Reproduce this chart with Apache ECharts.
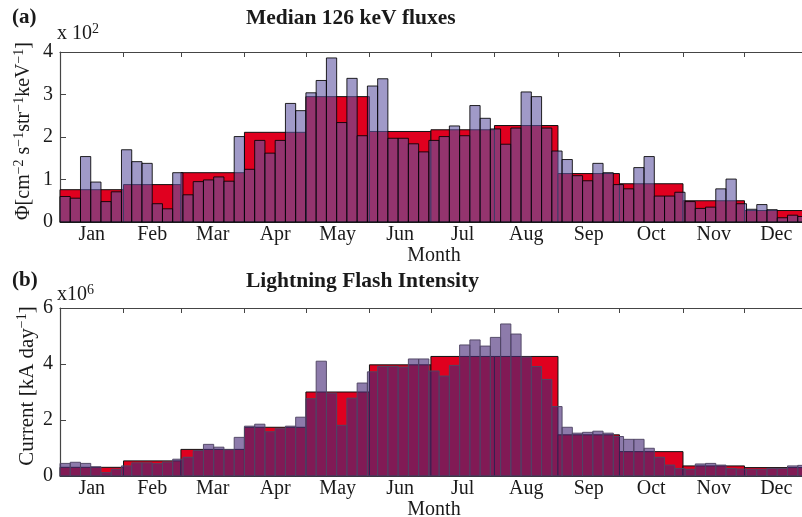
<!DOCTYPE html>
<html><head><meta charset="utf-8">
<script src="https://cdn.jsdelivr.net/npm/echarts@6/dist/echarts.min.js"></script>
<style>html,body{margin:0;padding:0;background:#fff}#c{width:802px;height:517px}</style>
</head><body><div id="c"></div>
<script>
// ---- data ----
const months = ['Jan','Feb','Mar','Apr','May','Jun','Jul','Aug','Sep','Oct','Nov','Dec'];
const monthDays = [31,28,31,30,31,30,31,31,30,31,30,31];
const pentadDays = 5;
// Median 126 keV fluxes (x 10^2)
const fluxMonthly = [0.76,0.88,1.16,2.11,2.95,2.13,2.17,2.27,1.14,0.90,0.50,0.27];
const fluxPentad = [0.60,0.56,1.54,0.94,0.48,0.71,1.70,1.42,1.38,0.43,0.31,1.16,0.64,0.95,0.99,1.06,0.96,2.01,1.24,1.92,1.62,1.92,2.79,2.62,3.04,
  3.33,3.86,2.34,3.38,2.03,3.20,3.37,1.97,1.97,1.84,1.65,1.92,2.01,2.26,2.03,2.74,2.44,2.19,1.83,2.21,3.06,2.95,2.21,
  1.67,1.47,1.09,0.97,1.38,1.16,0.88,0.78,1.28,1.54,0.61,0.61,0.70,0.48,0.32,0.35,0.78,1.01,0.43,0.30,0.41,0.29,0.10,0.16,0.13];
// Lightning flash intensity (x 10^6)
const lightMonthly = [0.31,0.54,0.95,1.74,3.00,3.97,4.27,4.27,1.47,0.87,0.36,0.30];
const lightPentad = [0.45,0.49,0.45,0.33,0.12,0.24,0.36,0.47,0.47,0.44,0.50,0.60,0.67,0.91,1.13,1.03,0.94,1.38,1.78,1.85,1.58,1.69,1.78,2.10,2.76,
  4.10,2.96,1.81,2.78,3.32,3.72,3.91,3.91,3.89,4.18,4.18,3.75,3.57,3.95,4.68,4.86,4.64,4.95,5.43,5.07,4.25,3.91,3.45,
  2.48,1.74,1.53,1.56,1.60,1.53,1.41,1.31,1.31,0.99,0.67,0.39,0.27,0.24,0.43,0.45,0.39,0.27,0.25,0.24,0.24,0.27,0.27,0.36,0.38];
const fluxTicks = [0,1,2,3,4];
const lightTicks = [0,2,4,6];

// ---- derived ----
const bounds = [0];
monthDays.forEach(d => bounds.push(bounds[bounds.length-1] + d));
const mids = months.map((m,i) => (bounds[i] + bounds[i+1]) / 2);
const innerBounds = bounds.slice(1, 12);
const monthRows = vals => vals.map((v,i) => [bounds[i], bounds[i+1], v]);
const pentadRows = vals => vals.map((v,i) => [i*pentadDays, (i+1)*pentadDays, v]);

const FONT = '"Liberation Serif", "Times New Roman", serif';
const TXT = '#1a1a1a';
const AX = '#454545';

function rectItem(fill, stroke, lw) {
  return function (params, api) {
    const a = api.coord([api.value(0), api.value(2)]);
    const b = api.coord([api.value(1), 0]);
    return {
      type: 'rect',
      shape: { x: a[0], y: a[1], width: b[0] - a[0], height: b[1] - a[1] },
      style: { fill: fill, stroke: stroke, lineWidth: lw }
    };
  };
}

function xAxes(gi) {
  return [{
    type: 'value', gridIndex: gi, min: 0, max: 365, position: 'bottom',
    axisLine: { show: true, lineStyle: { color: AX, width: 1.2 } },
    axisTick: { show: true, inside: true, length: 5, customValues: innerBounds, lineStyle: { color: '#111' } },
    axisLabel: { show: true, customValues: mids, margin: 3, fontSize: 20, fontFamily: FONT, color: TXT,
      formatter: v => months[mids.indexOf(v)] },
    splitLine: { show: false },
    name: 'Month', nameLocation: 'middle', nameGap: 22,
    nameTextStyle: { fontSize: 20, fontFamily: FONT, color: TXT }
  }, {
    type: 'value', gridIndex: gi, min: 0, max: 365, position: 'top',
    axisLine: { show: true, lineStyle: { color: AX, width: 1.2 } },
    axisTick: { show: true, inside: true, length: 5, customValues: innerBounds, lineStyle: { color: AX } },
    axisLabel: { show: false }, splitLine: { show: false }
  }];
}

function yAxis(gi, ticks) {
  return {
    type: 'value', gridIndex: gi, min: ticks[0], max: ticks[ticks.length-1], interval: ticks[1]-ticks[0],
    axisLine: { show: true, lineStyle: { color: AX, width: 1.2 } },
    axisTick: { show: true, inside: true, length: 6, lineStyle: { color: AX } },
    axisLabel: { margin: 7, fontSize: 20, fontFamily: FONT, color: TXT },
    splitLine: { show: false }
  };
}

const supRich = size => ({ s: { fontSize: size, fontFamily: FONT, fill: TXT, verticalAlign: 'top', padding: [0,0,10,0] } });

const chart = echarts.init(document.getElementById('c'), null, { renderer: 'canvas' });
const option = {
  animation: false,
  backgroundColor: '#fff',
  grid: [
    { left: 60, top: 52, width: 748, height: 170, outerBoundsMode: 'none', containLabel: false },
    { left: 60, top: 308, width: 748, height: 168, outerBoundsMode: 'none', containLabel: false }
  ],
  xAxis: xAxes(0).concat(xAxes(1)),
  yAxis: [ yAxis(0, fluxTicks), yAxis(1, lightTicks) ],
  series: [
    { type: 'custom', xAxisIndex: 0, yAxisIndex: 0, data: monthRows(fluxMonthly), encode: { x: [0,1], y: 2 },
      renderItem: rectItem('#e0001f', '#111', 1) },
    { type: 'custom', xAxisIndex: 0, yAxisIndex: 0, data: pentadRows(fluxPentad), encode: { x: [0,1], y: 2 },
      renderItem: rectItem('rgba(97,87,163,0.6)', 'rgba(0,0,0,0.85)', 1) },
    { type: 'custom', xAxisIndex: 2, yAxisIndex: 1, data: monthRows(lightMonthly), encode: { x: [0,1], y: 2 },
      renderItem: rectItem('#e0001f', '#111', 1) },
    { type: 'custom', xAxisIndex: 2, yAxisIndex: 1, data: pentadRows(lightPentad), encode: { x: [0,1], y: 2 },
      renderItem: rectItem('rgba(71,42,119,0.62)', 'rgba(80,70,100,0.95)', 1) }
  ],
  graphic: [
    { type: 'text', left: 12, top: 7, style: { text: '(a)', font: 'bold 21px ' + FONT, fill: TXT } },
    { type: 'text', left: 246, top: 7, style: { text: 'Median 126 keV fluxes', font: 'bold 21.5px ' + FONT, fill: TXT } },
    { type: 'text', left: 57, top: 22, style: { text: 'x 10{s|2}', font: '20px ' + FONT, fill: TXT, rich: supRich(14) } },
    { type: 'text', x: 24, y: 131, rotation: Math.PI / 2,
      style: { text: 'Φ[cm{s|−2} s{s|−1}str{s|−1}keV{s|−1}]', font: '20px ' + FONT, fill: TXT,
        align: 'center', verticalAlign: 'middle', rich: supRich(14) } },
    { type: 'text', left: 12, top: 270, style: { text: '(b)', font: 'bold 21px ' + FONT, fill: TXT } },
    { type: 'text', left: 246, top: 270, style: { text: 'Lightning Flash Intensity', font: 'bold 21.5px ' + FONT, fill: TXT } },
    { type: 'text', left: 57, top: 283, style: { text: 'x10{s|6}', font: '20px ' + FONT, fill: TXT, rich: supRich(14) } },
    { type: 'text', x: 27, y: 386, rotation: Math.PI / 2,
      style: { text: 'Current [kA day{s|−1}]', font: '21px ' + FONT, fill: TXT,
        align: 'center', verticalAlign: 'middle', rich: supRich(14) } }
  ]
};
chart.setOption(option);
</script>
</body></html>
